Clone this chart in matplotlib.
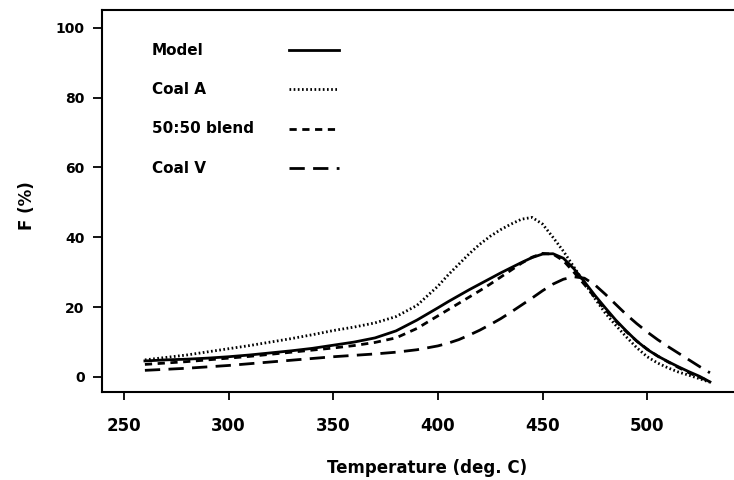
import matplotlib.pyplot as plt

# temperature grid (deg. C)
temp = [260, 270, 280, 290, 300, 310, 320, 330, 340, 350, 360, 370, 380, 390, 400,
        405, 410, 415, 420, 425, 430, 435, 440, 445, 450, 455, 460, 465, 470, 475,
        480, 485, 490, 495, 500, 505, 510, 515, 520, 525, 530]

model = [4.6, 4.9, 5.1, 5.4, 5.8, 6.3, 6.9, 7.5, 8.2, 9.1, 10.0, 11.2, 13.2, 16.3, 19.8,
         21.6, 23.3, 25.0, 26.6, 28.2, 29.8, 31.3, 32.8, 34.2, 35.2, 35.3, 34.0, 31.0, 27.3, 23.4,
         19.8, 16.3, 13.2, 10.3, 7.9, 6.0, 4.4, 2.9, 1.5, 0.2, -1.4]

coal_a = [4.9, 5.6, 6.3, 7.2, 8.1, 9.0, 10.0, 11.0, 12.1, 13.3, 14.3, 15.5, 17.3, 20.5, 26.0,
          29.3, 32.3, 35.3, 38.0, 40.3, 42.2, 43.8, 45.2, 45.7, 43.8, 40.0, 36.0, 31.5, 27.0, 22.5,
          18.3, 14.8, 11.5, 8.4, 5.8, 4.0, 2.6, 1.4, 0.5, -0.5, -1.5]

blend = [3.6, 4.0, 4.4, 4.9, 5.4, 5.9, 6.5, 7.1, 7.7, 8.3, 9.0, 9.9, 11.2, 13.9, 17.5,
         19.3, 21.1, 22.9, 24.7, 26.6, 28.6, 30.6, 32.6, 34.3, 35.4, 35.2, 33.3, 30.0, 26.5, 22.8,
         19.3, 16.0, 13.0, 10.3, 8.0, 6.0, 4.3, 2.7, 1.2, -0.1, -1.2]

coal_v = [1.9, 2.2, 2.5, 2.9, 3.3, 3.8, 4.3, 4.8, 5.3, 5.8, 6.2, 6.6, 7.1, 7.8, 8.9,
          9.7, 10.7, 12.0, 13.4, 15.0, 16.7, 18.6, 20.6, 22.6, 24.7, 26.6, 28.0, 28.7, 28.3, 26.4,
          23.7, 20.8, 17.9, 15.3, 12.9, 10.7, 8.7, 6.8, 4.9, 3.0, 1.2]

labels = ["Model", "Coal A", "50:50 blend", "Coal V"]
styles = ["-", (0, (0.6, 0.9)), (0, (2.6, 2.0)), (0, (5.5, 3.0))]

plt.rcParams['font.family'] = 'DejaVu Sans'
plt.rcParams['font.weight'] = 'bold'

fig = plt.figure(figsize=(7.34, 4.8), dpi=100)
ax = fig.add_axes([102 / 734, 88 / 480, 632 / 734, 382 / 480])

series = [model, coal_a, blend, coal_v]
for y, ls in zip(series, styles):
    ax.plot(temp, y, color="black", linewidth=2, linestyle=ls)

# legend drawn by hand: label on the left, line sample on the right
leg_y = [0.895, 0.793, 0.689, 0.586]
for lab, ls, yy in zip(labels, styles, leg_y):
    ax.text(0.079, yy, lab, transform=ax.transAxes, fontsize=11,
            fontweight='bold', va='center', ha='left')
    ax.plot([0.296, 0.375], [yy, yy], transform=ax.transAxes,
            color="black", linewidth=2, linestyle=ls)

ax.set_xlim(239.5, 541.5)
ax.set_ylim(-4.3, 105.1)
ax.set_xticks([250, 300, 350, 400, 450, 500])
ax.set_yticks([0, 20, 40, 60, 80, 100])

ax.spines['right'].set_visible(False)
for s in ['left', 'bottom', 'top']:
    ax.spines[s].set_linewidth(1.5)

ax.tick_params(axis='y', direction='out', length=6.5, width=1.3,
               labelsize=10, pad=6)
ax.tick_params(axis='x', direction='out', length=6, width=1.3,
               labelsize=12, pad=12)

ax.set_xlabel("Temperature (deg. C)", fontsize=12, fontweight='bold')
ax.set_ylabel("F (%)", fontsize=12, fontweight='bold')
ax.xaxis.set_label_coords(0.514, -0.175)
ax.yaxis.set_label_coords(-0.105, 0.487)

fig.savefig("out.png", dpi=100)
